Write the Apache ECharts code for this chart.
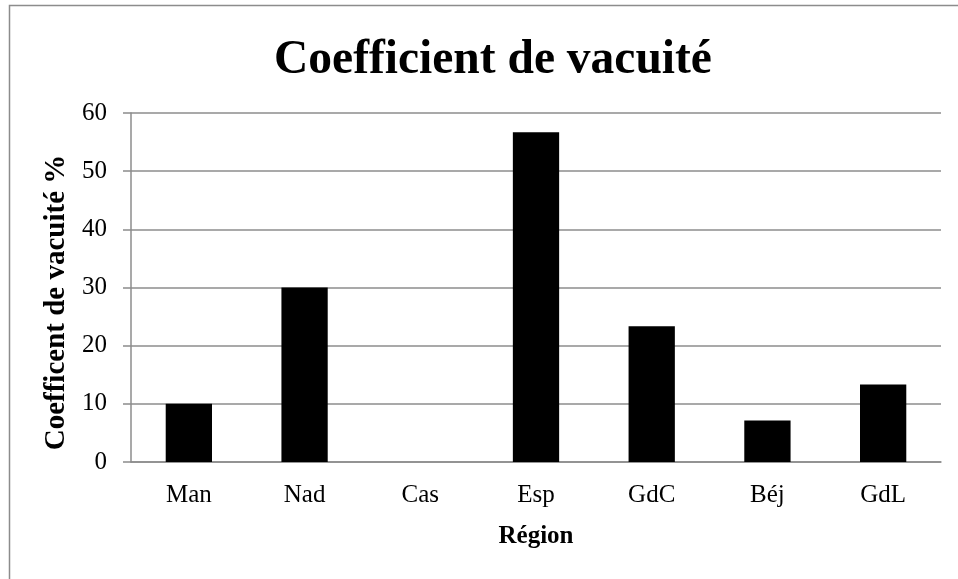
<!DOCTYPE html>
<html>
<head>
<meta charset="utf-8">
<title>Coefficient de vacuité</title>
<script src="https://cdn.jsdelivr.net/npm/echarts@6/dist/echarts.min.js"></script>
<style>
  html, body { margin: 0; padding: 0; background: #fff; }
  #chart { width: 958px; height: 579px; }
</style>
</head>
<body>
<div id="chart"></div>
<script>
// Régions échantillonnées et coefficient de vacuité (%)
const regions = ['Man', 'Nad', 'Cas', 'Esp', 'GdC', 'Béj', 'GdL'];
const vacuite = [10, 30, 0, 56.67, 23.33, 7.14, 13.33];

const titleText = 'Coefficient de vacuité';
const xName = 'Région';
const yName = 'Coefficent de vacuité %';

const serif = '"Liberation Serif", "Times New Roman", serif';
const gridColor = '#8c8c8c';

const chart = echarts.init(document.getElementById('chart'));
chart.setOption({
  animation: false,
  backgroundColor: '#fff',
  graphic: [{
    type: 'polyline',
    shape: { points: [[9.5, 579], [9.5, 5.5], [958, 5.5]] },
    style: { stroke: '#8c8c8c', lineWidth: 1.5, fill: null },
    silent: true
  }],
  title: {
    text: titleText,
    left: 488,
    textAlign: 'center',
    top: 32,
    textStyle: { fontFamily: serif, fontWeight: 'bold', fontSize: 47.5, color: '#000' }
  },
  grid: { left: 131, right: 17, top: 113, bottom: 117 },
  xAxis: {
    type: 'category',
    data: regions,
    name: xName,
    nameLocation: 'middle',
    nameGap: 62,
    nameTextStyle: { fontFamily: serif, fontWeight: 'bold', fontSize: 25, color: '#000' },
    axisLine: { lineStyle: { color: gridColor, width: 1.5 } },
    axisTick: { show: false },
    axisLabel: { fontFamily: serif, fontSize: 25, color: '#000', margin: 21 }
  },
  yAxis: {
    type: 'value',
    min: 0,
    max: 60,
    interval: 10,
    name: yName,
    nameLocation: 'middle',
    nameGap: 55,
    nameRotate: 90,
    nameTextStyle: {
      fontFamily: serif, fontWeight: 'bold', fontSize: 29, color: '#000',
      padding: [0, 30, 0, 0]
    },
    axisLine: { show: true, lineStyle: { color: gridColor, width: 1.5 } },
    axisTick: { show: true, length: 8, lineStyle: { color: gridColor, width: 1.5 } },
    axisLabel: { fontFamily: serif, fontSize: 25, color: '#000', margin: 24 },
    splitLine: { lineStyle: { color: gridColor, width: 1.5 } }
  },
  series: [{
    type: 'bar',
    data: vacuite,
    barWidth: '40%',
    itemStyle: { color: '#000' }
  }]
});
</script>
</body>
</html>
